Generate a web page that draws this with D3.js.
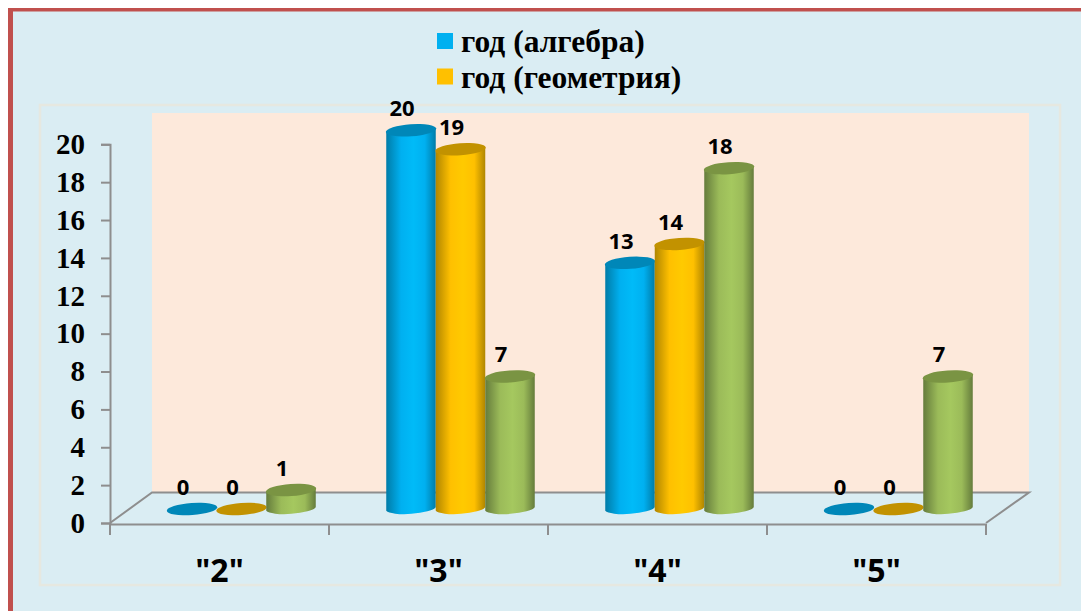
<!DOCTYPE html>
<html>
<head>
<meta charset="utf-8">
<script src="https://cdn.jsdelivr.net/npm/d3@7"></script>
<style>
  html, body { margin: 0; padding: 0; background: #fff; }
  svg { display: block; }
  .tick-label { font-family: "Liberation Serif", serif; font-weight: bold; font-size: 29px; fill: #000; }
  .legend-label { font-family: "Liberation Serif", serif; font-weight: bold; font-size: 31.5px; fill: #000; }
  .value-label { font-family: "Open Sans", sans-serif; font-weight: bold; font-size: 22px; fill: #000; }
  .cat-label { font-family: "Open Sans", sans-serif; font-weight: bold; font-size: 32px; fill: #000; }
</style>
</head>
<body>
<div id="display"></div>
<script>
var categories = ['"2"', '"3"', '"4"', '"5"'];
var seriesNames = ['год (алгебра)', 'год (геометрия)', 'год'];
var algebra = [0, 20, 13, 0];
var geometry = [0, 19, 14, 0];
var third = [1, 7, 18, 7];
var yTicks = [0, 2, 4, 6, 8, 10, 12, 14, 16, 18, 20];

var seriesValues = [algebra, geometry, third];
var palette = [
  { main: '#00B0F0', edge: '#007CA8', mid: '#00BBF8', top: '#0087B8' },
  { main: '#FFC000', edge: '#B08600', mid: '#FFCA00', top: '#C29200' },
  { main: '#9BBB59', edge: '#657C3C', mid: '#A5C85F', top: '#7A9443' }
];

var svg = d3.select('#display')
    .append('svg')
    .attr('width', 1081)
    .attr('height', 611);

var x0 = d3.scaleBand().domain(d3.range(categories.length)).range([110, 986]);
var catAxisScale = d3.scaleBand().domain(categories).range([110, 986]);
var y = d3.scaleLinear().domain([0, 20]).range([523, 144.3]);

// how far the 3d box pushes bars back from the axis
var depthX = 22, depthY = -14;
var barW = 49.5, rx = barW / 2 + 0.5, ry = 6, tilt = -4;
var tiltDy = rx * Math.sin(-tilt * Math.PI / 180);

// page background + frames
svg.append('rect').attr('x', 8).attr('y', 8).attr('width', 1090).attr('height', 620).attr('fill', '#C0504D');
svg.append('rect').attr('x', 13).attr('y', 11.5).attr('width', 1080).attr('height', 610).attr('fill', '#DAEDF3');
svg.append('rect').attr('x', 40).attr('y', 105).attr('width', 1020).attr('height', 480)
    .attr('fill', 'none').attr('stroke', '#E6E8E0').attr('stroke-width', 2.5);

// back wall
svg.append('rect').attr('x', 152).attr('y', 113).attr('width', 877).attr('height', 379.5).attr('fill', '#FDE9DB');

// floor
svg.append('path')
    .attr('d', 'M110,' + y(0) + 'L152,492.5L1029,492.5L986,' + y(0))
    .attr('fill', 'none').attr('stroke', '#8E8E8E').attr('stroke-width', 2);

// gradients
var defs = svg.append('defs');
palette.forEach(function (p, i) {
  var g = defs.append('linearGradient').attr('id', 'cyl' + i);
  g.append('stop').attr('offset', '0%').attr('stop-color', p.edge);
  g.append('stop').attr('offset', '30%').attr('stop-color', p.main);
  g.append('stop').attr('offset', '55%').attr('stop-color', p.mid);
  g.append('stop').attr('offset', '78%').attr('stop-color', p.main);
  g.append('stop').attr('offset', '100%').attr('stop-color', p.edge);
});

// axes
var yAxis = d3.axisLeft(y).tickValues(yTicks).tickSize(9).tickPadding(16).tickFormat(d3.format('d'));
var yG = svg.append('g').attr('transform', 'translate(110,0)').call(yAxis);
yG.selectAll('path').attr('stroke', '#8E8E8E').attr('stroke-width', 2);
yG.selectAll('line').attr('stroke', '#8E8E8E').attr('stroke-width', 2);
yG.selectAll('text').attr('class', 'tick-label').attr('font-family', null).attr('font-size', null);

var xG = svg.append('g').attr('transform', 'translate(0,' + (y(0) + 1) + ')')
    .call(d3.axisBottom(catAxisScale).tickSize(0).tickPadding(35));
xG.select('.domain').attr('stroke', '#8E8E8E').attr('stroke-width', 2);
xG.selectAll('text').attr('class', 'cat-label').attr('font-family', null).attr('font-size', null);
xG.selectAll('.edge')
    .data(d3.range(categories.length + 1))
    .enter().append('line')
    .attr('class', 'edge')
    .attr('x1', function (d) { return x0.range()[0] + d * x0.step(); })
    .attr('x2', function (d) { return x0.range()[0] + d * x0.step(); })
    .attr('y1', 0).attr('y2', 11)
    .attr('stroke', '#8E8E8E').attr('stroke-width', 2);

// cylinders
var x1 = d3.scaleBand().domain(d3.range(seriesValues.length)).range([-barW * 1.5, barW * 1.5]);

function cylPath(cx, top, base) {
  var xl = cx - barW / 2, xr = cx + barW / 2;
  return 'M' + xl + ',' + (top + tiltDy) +
      'L' + xl + ',' + (base + tiltDy) +
      'A' + rx + ',' + ry + ',' + tilt + ',0,0,' + xr + ',' + (base - tiltDy) +
      'L' + xr + ',' + (top - tiltDy) +
      'A' + rx + ',' + ry + ',' + tilt + ',0,1,' + xl + ',' + (top + tiltDy) + 'Z';
}

var marks = [];
categories.forEach(function (c, ci) {
  seriesValues.forEach(function (vals, si) {
    marks.push({ cat: ci, s: si, v: vals[ci] });
  });
});

function barX(d) {
  return x0(d.cat) + x0.bandwidth() / 2 + depthX + x1(d.s) + x1.bandwidth() / 2;
}

var bars = svg.append('g').selectAll('g').data(marks).enter().append('g');
bars.append('path')
    .attr('d', function (d) { return cylPath(barX(d), y(d.v) + depthY, y(0) + depthY); })
    .attr('fill', function (d) { return 'url(#cyl' + d.s + ')'; });
bars.append('ellipse')
    .attr('cx', 0).attr('cy', 0)
    .attr('rx', rx).attr('ry', ry)
    .attr('transform', function (d) {
      return 'translate(' + barX(d) + ',' + (y(d.v) + depthY) + ') rotate(' + tilt + ')';
    })
    .attr('fill', function (d) { return palette[d.s].top; });

svg.append('g').selectAll('text').data(marks).enter().append('text')
    .attr('class', 'value-label')
    .attr('text-anchor', 'middle')
    .attr('x', function (d) { return barX(d) - 9; })
    .attr('y', function (d) { return y(d.v) + depthY - 14; })
    .text(function (d) { return d.v; });

// legend only lists the first two series
var legend = svg.append('g').selectAll('g').data(seriesNames.slice(0, 2)).enter().append('g')
    .attr('transform', function (d, i) { return 'translate(437,' + (33 + i * 35.5) + ')'; });
legend.append('rect').attr('width', 16).attr('height', 16)
    .attr('fill', function (d, i) { return palette[i].main; });
legend.append('text')
    .attr('class', 'legend-label')
    .attr('x', 24).attr('y', 19)
    .text(function (d) { return d; });
</script>
</body>
</html>
